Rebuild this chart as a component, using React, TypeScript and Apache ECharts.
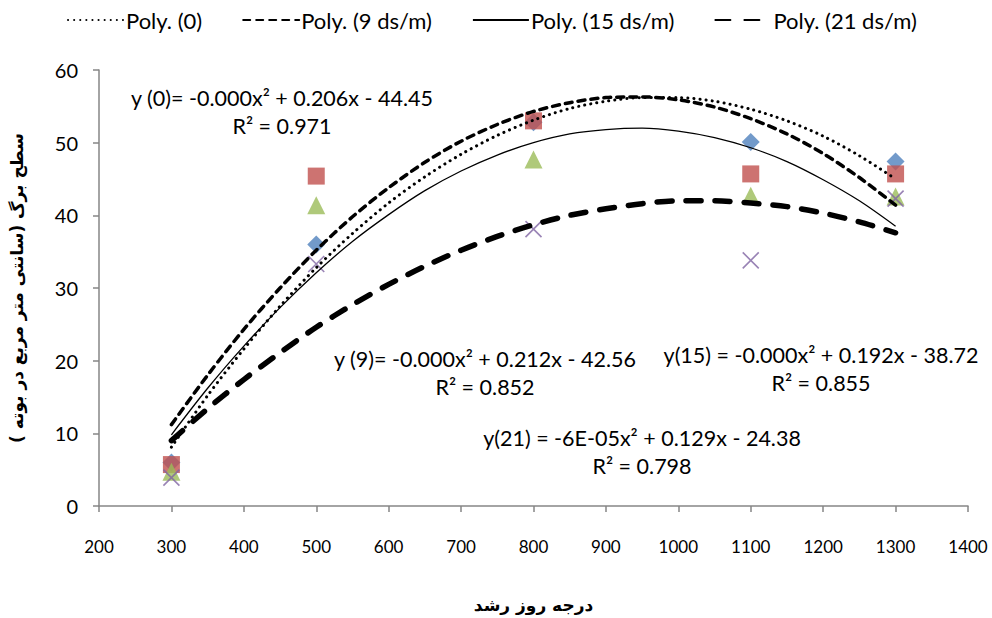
import React, { useEffect, useRef } from "react";
import * as echarts from "echarts";

const pointX = [300, 500, 800, 1100, 1300];
const s0 = [6.0, 36.0, 52.8, 50.1, 47.4];
const s9 = [5.7, 45.4, 53.0, 45.7, 45.7];
const s15 = [4.7, 41.4, 47.7, 42.7, 42.6];
const s21 = [3.9, 33.3, 38.1, 33.8, 42.3];

const trendX = [300, 350, 400, 450, 500, 550, 600, 650, 700, 750, 800, 850, 900, 950, 1000, 1050, 1100, 1150, 1200, 1250, 1300];
const trend0 = [8.1, 15.2, 21.6, 27.5, 32.8, 37.5, 41.7, 45.3, 48.4, 51, 53.1, 54.7, 55.7, 56.2, 56.2, 55.7, 54.6, 53, 50.9, 48.2, 45];
const trend9 = [11.2, 18, 24.3, 30, 35.2, 39.8, 43.8, 47.3, 50.2, 52.5, 54.3, 55.5, 56.2, 56.3, 55.9, 54.9, 53.3, 51.2, 48.5, 45.2, 41.4];
const trend15 = [9.8, 16.2, 22, 27.3, 32.1, 36.4, 40.1, 43.4, 46.1, 48.3, 50, 51.2, 51.8, 52, 51.6, 50.7, 49.3, 47.4, 44.9, 42, 38.5];
const trend21 = [9.0, 13.4, 17.4, 21.1, 24.6, 27.7, 30.5, 33, 35.2, 37.1, 38.7, 40, 40.9, 41.6, 42, 42, 41.7, 41.2, 40.3, 39.1, 37.6];

const trendNames = ["Poly. (0)", "Poly. (9 ds/m)", "Poly. (15 ds/m)", "Poly. (21 ds/m)"];

const equations = [
  { l1: "y (0)= -0.000x² + 0.206x - 44.45", l2: "R² = 0.971", x: 282, y: 98 },
  { l1: "y (9)= -0.000x² + 0.212x - 42.56", l2: "R² = 0.852", x: 485, y: 359 },
  { l1: "y(15) = -0.000x² + 0.192x - 38.72", l2: "R² = 0.855", x: 821, y: 355 },
  { l1: "y(21) = -6E-05x² + 0.129x - 24.38", l2: "R² = 0.798", x: 642, y: 438 },
];

const xAxisTitle = "درجه روز رشد";
const yAxisTitle = "سطح برگ (سانتی متر مربع در بوته )";

const pair = (xs: number[], ys: number[]) => xs.map((x, i) => [x, ys[i]]);

export default function App() {
  const ref = useRef<HTMLDivElement>(null);
  useEffect(() => {
    if (!ref.current) return;
    const chart = echarts.init(ref.current, null, { renderer: "svg" });
    const font = "Lato";
    const eqGraphics: any[] = [];
    equations.forEach((e) => {
      eqGraphics.push({
        type: "text",
        x: e.x,
        y: e.y,
        style: { text: e.l1, fontFamily: font, fontSize: 21.5, fill: "#000", align: "center", verticalAlign: "middle" },
      });
      eqGraphics.push({
        type: "text",
        x: e.x,
        y: e.y + 28,
        style: { text: e.l2, fontFamily: font, fontSize: 21.5, fill: "#000", align: "center", verticalAlign: "middle" },
      });
    });
    const lineSeries = (name: string, data: number[], lineStyle: any) => ({
      name,
      type: "line",
      data: pair(trendX, data),
      smooth: 0.3,
      symbol: "none",
      showSymbol: false,
      z: 3,
      lineStyle: { color: "#000", ...lineStyle },
      itemStyle: { color: "#000" },
    });
    const scatter = (name: string, data: number[], symbol: string, color: string, size: number, extra: any = {}) => ({
      name,
      type: "scatter",
      data: pair(pointX, data),
      symbol,
      symbolSize: size,
      z: 2,
      itemStyle: { color, ...extra },
    });
    chart.setOption({
      animation: false,
      backgroundColor: "#fff",
      grid: { left: 98, right: 24, top: 70, bottom: 103 },
      legend: {
        top: 4,
        left: 62,
        itemWidth: 56,
        itemHeight: 12,
        itemGap: 40,
        data: trendNames,
        itemStyle: { opacity: 0 },
        textStyle: { fontFamily: font, fontSize: 22, color: "#000", padding: [0, 0, 0, -3] },
      },
      graphic: eqGraphics,
      xAxis: {
        type: "value",
        min: 200,
        max: 1400,
        interval: 100,
        name: xAxisTitle,
        nameLocation: "middle",
        nameGap: 90,
        nameTextStyle: { fontFamily: "DejaVu Sans", fontWeight: "bold", fontSize: 17, color: "#000" },
        axisLine: { show: true, lineStyle: { color: "#868686", width: 1.5 } },
        axisTick: { show: true, length: 6, lineStyle: { color: "#868686", width: 1.5 } },
        axisLabel: { fontFamily: font, fontSize: 17, color: "#000", margin: 32, formatter: (v: number) => String(v) },
        splitLine: { show: false },
      },
      yAxis: {
        type: "value",
        min: 0,
        max: 60,
        interval: 10,
        name: yAxisTitle,
        nameLocation: "middle",
        nameGap: 74,
        nameTextStyle: { fontFamily: "DejaVu Sans", fontWeight: "bold", fontSize: 17, color: "#000" },
        axisLine: { show: true, lineStyle: { color: "#868686", width: 1.5 } },
        axisTick: { show: true, length: 6, lineStyle: { color: "#868686", width: 1.5 } },
        axisLabel: { fontFamily: font, fontSize: 20, color: "#000", margin: 21, formatter: (v: number) => String(v) },
        splitLine: { show: false },
      },
      series: [
        scatter("0", s0, "diamond", "#4F81BD", 18),
        scatter("9", s9, "rect", "#C0504D", 17),
        scatter("15", s15, "triangle", "#9BBB59", 18),
        scatter("21", s21, "path://M0,0L10,10M10,0L0,10", "none", 16, { borderColor: "#8064A2", borderWidth: 1.6 }),
        lineSeries(trendNames[0], trend0, { width: 3, type: [0.1, 6], cap: "round" }),
        lineSeries(trendNames[1], trend9, { width: 3.5, type: [7, 6], cap: "round" }),
        lineSeries(trendNames[2], trend15, { width: 1.3, type: "solid" }),
        lineSeries(trendNames[3], trend21, { width: 5.5, type: [15, 14], cap: "round" }),
      ],
    });
    return () => chart.dispose();
  }, []);
  return <div ref={ref} style={{ width: 992, height: 618, position: "absolute", left: 0, top: 0 }} />;
}
